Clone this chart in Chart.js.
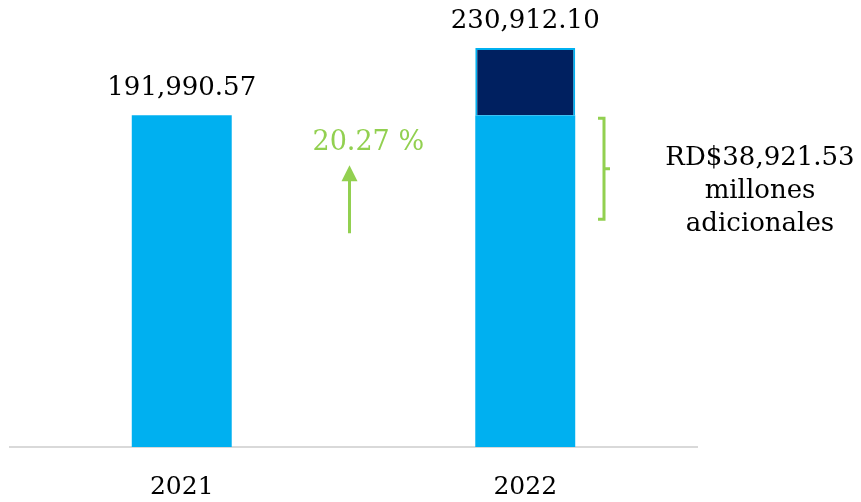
<!DOCTYPE html>
<html>
<head>
<meta charset="utf-8">
<script src="https://cdn.jsdelivr.net/npm/chart.js@4/dist/chart.umd.min.js"></script>
<style>
html,body{margin:0;padding:0;background:#fff;}
#wrap{width:861px;height:502px;position:relative;}
</style>
</head>
<body>
<div id="wrap"><canvas id="c" width="861" height="502"></canvas></div>
<script>
const categories = ["2021", "2022"];
const baseValues = [191990.57, 191990.57];
const addedValues = [0, 38921.53];
const totalLabels = ["191,990.57", "230,912.10"];
const growthLabel = "20.27 %";
const noteLines = ["RD$38,921.53", "millones", "adicionales"];

const FONT = "'DejaVu Serif', serif";
const TXT = "26px " + FONT;

const annot = {
  id: 'annot',
  afterDatasetsDraw(chart) {
    const ctx = chart.ctx;
    const xs = chart.scales.x, ys = chart.scales.y;
    ctx.save();
    ctx.font = TXT;
    ctx.fillStyle = "#000";
    ctx.textAlign = "center";
    ctx.textBaseline = "middle";
    categories.forEach((c, i) => {
      const tot = baseValues[i] + addedValues[i];
      ctx.fillText(totalLabels[i], xs.getPixelForValue(i), ys.getPixelForValue(tot) - 27);
    });
    // growth arrow
    const x0 = xs.getPixelForValue(0), x1 = xs.getPixelForValue(1);
    const mid = (x0 + x1) / 2 - 4;
    const yBase = ys.getPixelForValue(baseValues[0]);
    const green = "#92D050";
    ctx.strokeStyle = green; ctx.fillStyle = green;
    ctx.lineWidth = 3;
    ctx.beginPath();
    ctx.moveTo(mid, yBase + 118);
    ctx.lineTo(mid, yBase + 62);
    ctx.stroke();
    ctx.beginPath();
    ctx.moveTo(mid - 8, yBase + 66);
    ctx.lineTo(mid + 8, yBase + 66);
    ctx.lineTo(mid, yBase + 50);
    ctx.closePath();
    ctx.fill();
    ctx.font = "27px " + FONT;
    ctx.textAlign = "left";
    ctx.fillText(growthLabel, mid - 37, yBase + 28);
    // bracket
    const bx = chart.chartArea.right - 93;
    const top = yBase + 3, bot = yBase + 104, midY = (top + bot) / 2;
    ctx.lineWidth = 3;
    ctx.beginPath();
    ctx.moveTo(bx - 6, top);
    ctx.lineTo(bx, top);
    ctx.lineTo(bx, bot);
    ctx.lineTo(bx - 6, bot);
    ctx.moveTo(bx, midY);
    ctx.lineTo(bx + 6, midY);
    ctx.stroke();
    // note
    ctx.fillStyle = "#000";
    ctx.font = TXT;
    ctx.textAlign = "center";
    const nx = chart.chartArea.right + 63;
    noteLines.forEach((t, k) => ctx.fillText(t, nx, yBase + 43 + k * 33));
    ctx.restore();
  }
};

new Chart(document.getElementById('c'), {
  type: 'bar',
  data: {
    labels: categories,
    datasets: [
      { data: baseValues, backgroundColor: '#00B0F0', borderWidth: 0,
        categoryPercentage: 1, barPercentage: 0.291 },
      { data: addedValues, backgroundColor: '#002060', borderColor: '#00B0F0', borderWidth: 2,
        borderSkipped: 'bottom', categoryPercentage: 1, barPercentage: 0.291 }
    ]
  },
  options: {
    responsive: false,
    animation: false,
    layout: { padding: { top: 48, left: 10, right: 164, bottom: 0 } },
    plugins: { legend: { display: false }, tooltip: { enabled: false } },
    scales: {
      x: {
        stacked: true,
        grid: { display: false, drawTicks: false },
        border: { color: '#d9d9d9', width: 2 },
        ticks: { color: '#000', font: { family: FONT, size: 25 }, padding: 25 },
        afterFit(scale) { scale.height = 55; }
      },
      y: {
        stacked: true, display: false, min: 0, max: 230912.10
      }
    }
  },
  plugins: [annot]
});
</script>
</body>
</html>
